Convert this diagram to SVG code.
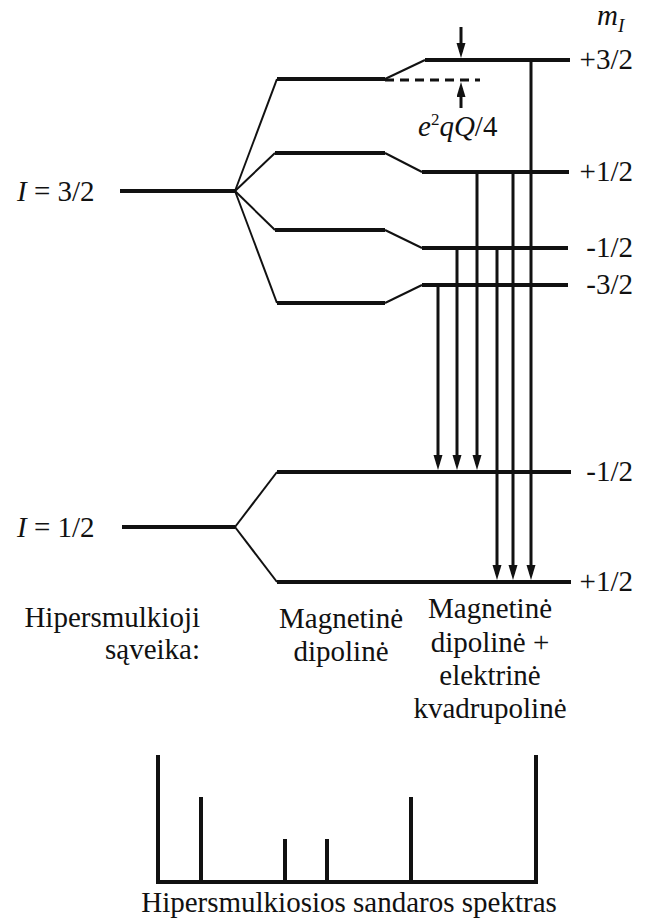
<svg xmlns="http://www.w3.org/2000/svg" width="651" height="920" viewBox="0 0 651 920" font-family="'Liberation Serif', 'DejaVu Serif', 'Noto Serif', 'Times New Roman', Times, serif">
  <style>
    .lvl { stroke: #111; stroke-width: 4; fill: none; }
    .sl { stroke: #111; stroke-width: 2; fill: none; }
    .tr { stroke: #111; stroke-width: 3; fill: none; }
    .dash { stroke: #111; stroke-width: 3; stroke-dasharray: 9 6; fill: none; }
    .sp { stroke: #111; stroke-width: 4; fill: none; }
    text { font-family: 'Liberation Serif', 'DejaVu Serif', 'Noto Serif', 'Times New Roman', Times, serif; font-size: 29px; fill: #111; }
    .it { font-style: italic; }
  </style>
  <defs>
    <marker id="ah" markerUnits="userSpaceOnUse" markerWidth="16" markerHeight="10" refX="9" refY="4.5" orient="auto">
      <path d="M0,0 L15,4.5 L0,9 z" fill="#111"/>
    </marker>
  </defs>
  <rect width="651" height="920" fill="#fff"/>

  <!-- unperturbed levels -->
  <g id="level-I32">
    <line class="lvl" x1="120" y1="191" x2="235" y2="191"/>
    <text x="17" y="201"><tspan class="it">I</tspan> = 3/2</text>
  </g>
  <g id="level-I12">
    <line class="lvl" x1="122" y1="527" x2="235" y2="527"/>
    <text x="17" y="537"><tspan class="it">I</tspan> = 1/2</text>
  </g>

  <!-- magnetic dipole sublevels -->
  <g id="md-u1"><line class="lvl" x1="277" y1="79" x2="385" y2="79"/></g>
  <g id="md-u2"><line class="lvl" x1="275" y1="153" x2="385" y2="153"/></g>
  <g id="md-u3"><line class="lvl" x1="275" y1="230" x2="385" y2="230"/></g>
  <g id="md-u4"><line class="lvl" x1="277" y1="303" x2="385" y2="303"/></g>

  <!-- dipole + quadrupole sublevels -->
  <g id="q-p32">
    <line class="lvl" x1="425" y1="60" x2="570" y2="60"/>
    <text x="633" y="69" text-anchor="end">+3/2</text>
  </g>
  <g id="q-p12">
    <line class="lvl" x1="422" y1="172" x2="569" y2="172"/>
    <text x="633" y="181" text-anchor="end">+1/2</text>
  </g>
  <g id="q-m12">
    <line class="lvl" x1="422" y1="248" x2="568" y2="248"/>
    <text x="633" y="257" text-anchor="end">-1/2</text>
  </g>
  <g id="q-m32">
    <line class="lvl" x1="422" y1="285" x2="568" y2="285"/>
    <text x="633" y="294" text-anchor="end">-3/2</text>
  </g>

  <!-- lower doublet -->
  <g id="low-m12">
    <line class="lvl" x1="277" y1="472" x2="571" y2="472"/>
    <text x="633" y="481" text-anchor="end">-1/2</text>
  </g>
  <g id="low-p12">
    <line class="lvl" x1="277" y1="582" x2="571" y2="582"/>
    <text x="633" y="591" text-anchor="end">+1/2</text>
  </g>

  <!-- quantum number heading -->
  <g id="mI-label">
    <text x="597" y="25"><tspan class="it">m</tspan><tspan class="it" font-size="19" dy="7">I</tspan></text>
  </g>

  <!-- quadrupole shift marker -->
  <g id="shift">
    <line class="dash" x1="385" y1="80" x2="480" y2="80"/>
    <line class="tr" x1="461" y1="27" x2="461" y2="52" marker-end="url(#ah)"/>
    <line class="tr" x1="461" y1="108" x2="461" y2="88" marker-end="url(#ah)"/>
    <text x="418" y="136"><tspan class="it">e</tspan><tspan font-size="17" dy="-11">2</tspan><tspan class="it" dy="11">qQ</tspan>/4</text>
  </g>

  <!-- splitting lines and transitions -->
  <g id="connectors">
    <line class="sl" x1="235" y1="191" x2="277" y2="79"/>
    <line class="sl" x1="235" y1="191" x2="275" y2="153"/>
    <line class="sl" x1="235" y1="191" x2="275" y2="230"/>
    <line class="sl" x1="235" y1="191" x2="277" y2="303"/>
    <line class="sl" x1="235" y1="527" x2="277" y2="472"/>
    <line class="sl" x1="235" y1="527" x2="277" y2="582"/>

    <line class="sl" x1="385" y1="79" x2="425" y2="60"/>
    <line class="sl" x1="385" y1="153" x2="422" y2="172"/>
    <line class="sl" x1="385" y1="230" x2="422" y2="248"/>
    <line class="sl" x1="385" y1="303" x2="422" y2="285"/>

    <line class="tr" x1="438" y1="285" x2="438" y2="464" marker-end="url(#ah)"/>
    <line class="tr" x1="457" y1="248" x2="457" y2="464" marker-end="url(#ah)"/>
    <line class="tr" x1="477" y1="172" x2="477" y2="464" marker-end="url(#ah)"/>
    <line class="tr" x1="497" y1="248" x2="497" y2="574" marker-end="url(#ah)"/>
    <line class="tr" x1="513" y1="172" x2="513" y2="574" marker-end="url(#ah)"/>
    <line class="tr" x1="531" y1="60" x2="531" y2="574" marker-end="url(#ah)"/>
  </g>

  <!-- interaction captions -->
  <g id="cap-left">
    <text x="200" y="627" text-anchor="end">Hipersmulkioji</text>
    <text x="200" y="659" text-anchor="end">sąveika:</text>
  </g>
  <g id="cap-mid">
    <text x="341" y="628" text-anchor="middle">Magnetinė</text>
    <text x="341" y="661" text-anchor="middle">dipolinė</text>
  </g>
  <g id="cap-right">
    <text x="490" y="618" text-anchor="middle">Magnetinė</text>
    <text x="490" y="652" text-anchor="middle">dipolinė +</text>
    <text x="490" y="685" text-anchor="middle">elektrinė</text>
    <text x="490" y="718" text-anchor="middle">kvadrupolinė</text>
  </g>

  <!-- spectrum -->
  <g id="spectrum">
    <line class="sp" x1="156" y1="882" x2="538" y2="882"/>
    <line class="sp" x1="158" y1="755" x2="158" y2="882"/>
    <line class="sp" x1="201" y1="797" x2="201" y2="882"/>
    <line class="sp" x1="285" y1="839" x2="285" y2="882"/>
    <line class="sp" x1="327" y1="839" x2="327" y2="882"/>
    <line class="sp" x1="411" y1="797" x2="411" y2="882"/>
    <line class="sp" x1="536" y1="755" x2="536" y2="882"/>
    <text x="349" y="912" text-anchor="middle">Hipersmulkiosios sandaros spektras</text>
  </g>
</svg>
